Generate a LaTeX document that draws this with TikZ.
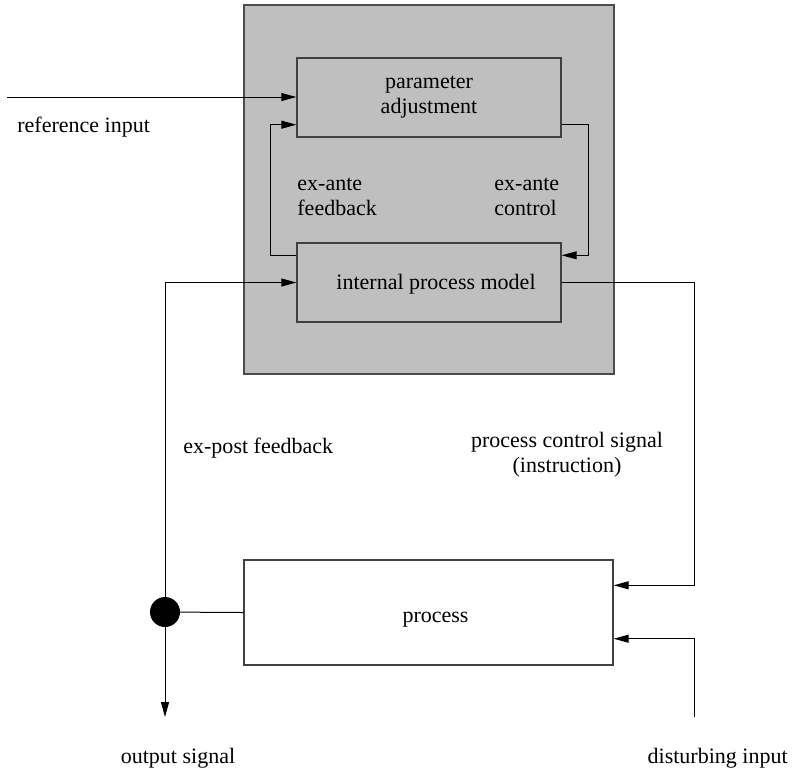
\documentclass[tikz,border=0pt]{standalone}
\usepackage{fontspec}
\setmainfont{Liberation Serif}
\usetikzlibrary{arrows.meta}

\begin{document}
\begin{tikzpicture}[x=0.5pt,y=-0.5pt,
  every node/.style={font=\fontsize{11}{12.5}\selectfont},
  block/.style={draw=black!75,line width=0.7pt,rectangle,inner sep=0pt},
  panel/.style={draw=black!70,fill=black!25,line width=0.7pt,rectangle,inner sep=0pt},
  txt/.style={inner sep=0pt},
  link/.style={draw=black,line width=0.5pt},
  arr/.style={link,-{Triangle[length=7.5pt,width=4pt]}},
  junction/.style={circle,fill=black,inner sep=0pt,minimum size=15pt}
]
\useasboundingbox (0,0) rectangle (795,773);

% controller panel with its two inner blocks
\node[panel,minimum width=185pt,minimum height=184.5pt] (ctrl) at (429,189.5) {};
\node[block,minimum width=132pt,minimum height=39.5pt] (PA) at (429,97.5) {};
\node[block,minimum width=132pt,minimum height=39.5pt] (IPM) at (429,282.5) {};

% controlled process
\node[block,fill=white,minimum width=184.5pt,minimum height=52.5pt] (P) at (428.5,612.5) {};

% branch point of the output signal
\node[junction] (dot) at (165,612) {};

% free ends
\coordinate (refin) at (7,97);
\coordinate (distin) at (694,717);
\coordinate (outsig) at (165,717);

% block texts (base anchor of a multi-line node = last line)
\node[txt,align=center] (tPA) at (429,97.5) {parameter\\adjustment};
\node[txt,anchor=base] (tIPM) at (436,289) {internal process model};
\node[txt,anchor=base] (tP) at (435.5,622) {process};

% signal texts
\node[txt,anchor=base west] (tref) at (17,132) {reference input};
\node[txt,anchor=base west,align=left] (tfb) at (297,215) {ex-ante\\feedback};
\node[txt,anchor=base west,align=left] (tctl) at (494,215) {ex-ante\\control};
\node[txt,anchor=base west] (tpost) at (183,453) {ex-post feedback};
\node[txt,anchor=base,align=center] (tpcs) at (567,472) {process control signal\\(instruction)};
\node[txt,anchor=base] (tout) at (178,763) {output signal};
\node[txt,anchor=base east] (tdist) at (788,763) {disturbing input};

% connectors
\draw[arr] (refin) -- (refin -| PA.west);
\draw[arr] ([yshift=-6.5pt]IPM.north west) -- ++(-13pt,0) |- ([yshift=6.5pt]PA.south west);
\draw[arr] ([yshift=6.5pt]PA.south east) -- ++(13.5pt,0) |- ([yshift=-6.5pt]IPM.north east);
\draw[arr] (dot.center) |- (IPM.west);
\draw[arr] (IPM.east) -- ++(66.5pt,0) |- ([yshift=-13pt]P.north east);
\draw[arr] (distin) |- ([yshift=13.5pt]P.south east);
\draw[link] (dot.center) -- (P.west);
\draw[arr] (dot.center) -- (outsig);
\end{tikzpicture}
\end{document}
